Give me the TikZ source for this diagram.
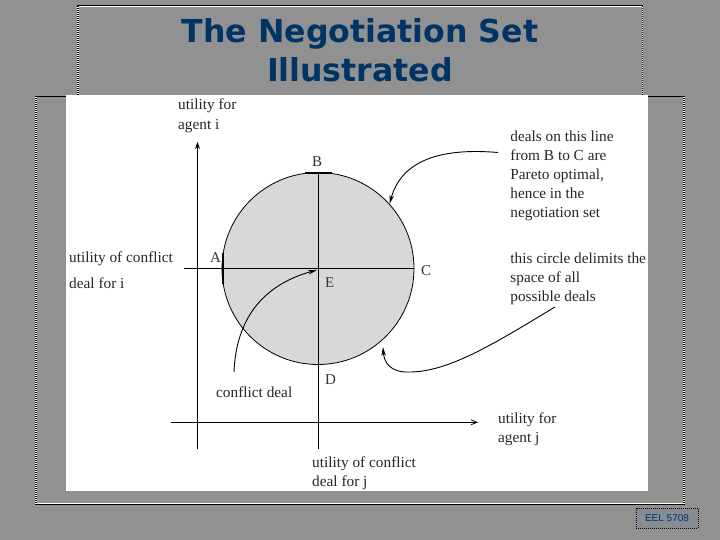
\documentclass[tikz,border=0pt]{standalone}
\usepackage{fontspec}
\setmainfont{Liberation Serif}
\newfontfamily\titlefont{DejaVu Sans}
\newfontfamily\footfont{Liberation Sans}
\usetikzlibrary{arrows.meta}
\definecolor{bg}{HTML}{919191}
\definecolor{titleblue}{HTML}{003366}
\definecolor{disc}{HTML}{D8D8D8}
\definecolor{footfill}{HTML}{858C94}
\tikzset{
  lbl/.style={anchor=north west,inner sep=0pt,align=left,text=black!85,
    font=\fontsize{15.3}{19.2}\selectfont,execute at begin node=\strut},
  letter/.style={anchor=base west,inner sep=0pt,text=black!80,font=\fontsize{15}{18}\selectfont},
  axis/.style={line width=0.8pt,black},
  thickseg/.style={line width=1.8pt,black},
  pointer/.style={line width=0.9pt,black,-{Stealth[length=9pt,width=4.5pt]}},
  edgeblack/.style={line width=0.8pt,black},
  edgewhite/.style={line width=0.8pt,white},
  dotline/.style={line width=1.4pt,black,dash pattern=on 1pt off 1pt},
  dotbase/.style={line width=1.4pt,white},
  titletext/.style={inner sep=0pt,align=center,text=titleblue,
    font=\titlefont\bfseries\fontsize{31.6}{39}\selectfont},
}
\begin{document}
\begin{tikzpicture}[x=1pt,y=-1pt]
\useasboundingbox (0,0) rectangle (720,540);
\fill[bg] (0,0) rectangle (720,540);
% title frame
\draw[edgeblack] (77,5.5) -- (643,5.5);
\draw[edgewhite] (77,6.6) -- (643,6.6);
\draw[dotbase] (78,6) -- (78,95);
\draw[dotline] (78,6) -- (78,95);
\draw[dotbase] (642.5,6) -- (642.5,95);
\draw[dotline] (642.5,6) -- (642.5,95);
% body frame
\draw[edgeblack] (35,96) -- (685,96);
\draw[dotbase] (36,96) -- (36,504);
\draw[dotline] (36,96) -- (36,504);
\draw[dotbase] (684,96) -- (684,504);
\draw[dotline] (684,96) -- (684,504);
\draw[edgewhite] (35,503) -- (685,503);
\draw[edgeblack] (35,504.2) -- (685,504.2);
% white picture
\fill[white] (66,95) rectangle (648,491);
% title
\node[titletext] (title) at (360,50) {The Negotiation Set\\Illustrated};
% footer
\node[draw=black,dash pattern=on 1pt off 1pt,line width=1pt,fill=footfill,minimum width=62pt,minimum height=20pt,inner sep=0pt,
  text=titleblue,font=\footfont\fontsize{10}{12}\selectfont] (foot) at (667,518) {EEL 5708};
% disc
\node[circle,draw=black,fill=disc,line width=0.8pt,minimum size=192pt,inner sep=0pt] (disc) at (318,268.5) {};
% axes
\coordinate (vtop) at (197.5,142);
\coordinate (vbot) at (197.5,449);
\coordinate (hleft) at (171,422.3);
\coordinate (hright) at (478,422.3);
\coordinate (dbot) at (318,449);
\coordinate (eleft) at (184,268.5);
\draw[axis,-{Stealth[length=7pt,width=5pt]}] (vbot) -- (vtop);
\draw[axis,-{Straight Barb[length=6pt,width=5pt]}] (hleft) -- (hright);
\draw[axis] (disc.north) -- (dbot);
\draw[axis] (eleft) -- (disc.east);
% thick parts of the boundary
\draw[thickseg] (305,172.8) -- (332,172.8);
\draw[thickseg] (222.6,253) -- (222.6,284);
% letters
\node[letter] (A) at (210,262) {A};
\node[letter] (B) at (312,167) {B};
\node[letter] (C) at (421,275) {C};
\node[letter] (D) at (325,384) {D};
\node[letter] (E) at (325,287) {E};
% labels
\node[lbl] (ui) at (178,99) {utility for\\agent i};
\node[lbl] (uj) at (498,412.7) {utility for\\agent j};
\node[lbl,font=\fontsize{15.3}{25.6}\selectfont] (ci) at (69,252) {utility of conflict\\deal for i};
\node[lbl] (cj) at (312,456.7) {utility of conflict\\deal for j};
\node[lbl] (cd) at (216,383.7) {conflict deal};
\node[lbl] (pareto) at (510.2,130.2) {deals on this line\\from B to C are\\Pareto optimal,\\hence in the\\negotiation set};
\node[lbl] (delim) at (510.2,252.4) {this circle delimits the\\space of all\\possible deals};
% pointers
\coordinate (p1s) at (498,152.5);
\coordinate (p1e) at (389.5,204);
\coordinate (p2s) at (234,372);
\coordinate (p2e) at (317,270);
\coordinate (p3s) at (555,307);
\coordinate (p3m) at (410,372);
\coordinate (p3e) at (383,347);
\draw[pointer] (p1s) .. controls (445,148) and (402,158) .. (p1e);
\draw[pointer] (p2s) .. controls (236,320) and (262,285) .. (p2e);
\draw[pointer] (p3s) .. controls (500,340) and (450,372) .. (p3m) .. controls (390,373) and (384,362) .. (p3e);
\end{tikzpicture}
\end{document}
